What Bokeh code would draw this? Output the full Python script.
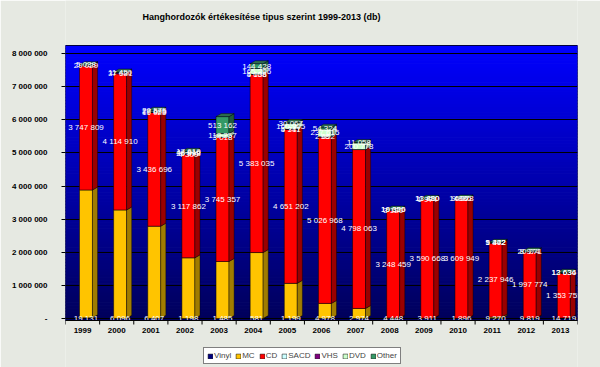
import numpy as np
from bokeh.plotting import figure
from bokeh.models import (ColumnDataSource, FixedTicker, Legend, LegendItem,
                          Label, Range1d)
from bokeh.core.properties import value
from bokeh.embed import file_html
from bokeh.resources import INLINE

# ---------------- data ----------------
years = ["1999", "2000", "2001", "2002", "2003", "2004", "2005", "2006",
         "2007", "2008", "2009", "2010", "2011", "2012", "2013"]
vinyl = [19131, 6096, 6407, 1198, 1485, 581, 1199, 4978, 2974, 4448, 3911,
         1896, 9270, 9819, 14719]
mc = [3860000, 3270000, 2780000, 1830000, 1720000, 1990000, 1060000, 450000,
      300000, 12000, 6000, 4000, 35000, 5000, 3000]
cd = [3747809, 4114910, 3436696, 3117862, 3745357, 5383035, 4651202, 5026968,
      4798063, 3248459, 3590668, 3609949, 2237946, 1997774, 1353755]
sacd = [0, 0, 0, 4309, 0, 4138, 4317, 2652, 0, 3120, 1974, 606, 1372, 0, 0]
vhs = [29029, 37681, 16025, 26993, 3018, 5006, 5741, 98, 0, 0, 0, 0, 0, 0, 0]
dvd = [0, 0, 27685, 48816, 112257, 165206, 160905, 237615, 200778, 16655,
       13880, 9836, 9442, 20271, 12636]
other = [5038, 11450, 20575, 17610, 513162, 144428, 30067, 54324, 11058,
         19320, 11420, 14978, 5402, 8974, 13634]

series_names = ["Vinyl", "MC", "CD", "SACD", "VHS", "DVD", "Other"]
series_vals = [vinyl, mc, cd, sacd, vhs, dvd, other]
labelled = [True, False, True, True, True, True, True]

y_ticks = [0, 1000000, 2000000, 3000000, 4000000, 5000000, 6000000, 7000000, 8000000]
y_tick_labels = ["-", "1 000 000", "2 000 000", "3 000 000", "4 000 000",
                 "5 000 000", "6 000 000", "7 000 000", "8 000 000"]
title_text = "Hanghordozók értékesítése tipus szerint 1999-2013 (db)"

# ---------------- styles ----------------
front_colors = ["#000080", "#FFC400", "#FF0000", "#CCFFFF", "#800080", "#CCFFCC", "#339966"]
side_colors = ["#000050", "#A07C00", "#9A0000", "#88AAAA", "#500050", "#88AA88", "#1F5E3E"]
cap_color = "#2D6E4C"
BG = "#E6E9E2"
FONT = "Liberation Sans"

W, H = 600, 367
PX_PER_M = 33.125                 # vertical pixels per million
ZERO_PX = 318                      # canvas y of value 0
TOP8_PX = 53                       # canvas y of 8 000 000
X0, X1 = -0.5, len(years) - 0.5
M = 1e6 / PX_PER_M                 # data units per pixel
Y_TOP = 8e6 + TOP8_PX * M
Y_BOT = -(H - ZERO_PX) * M
WALL_TOP = 8e6 + 8 * M
FLOOR = -2 * M

p = figure(width=W, height=H, output_backend="svg", toolbar_location=None,
           title=None, x_range=Range1d(X0, X1), y_range=Range1d(Y_BOT, Y_TOP),
           x_axis_location=None, min_border_left=65, min_border_right=23,
           min_border_top=0, min_border_bottom=0)
p.border_fill_color = BG
p.background_fill_color = BG
p.outline_line_color = None

# blue wall gradient (decoration)
nb = 90
edges = np.linspace(FLOOR, WALL_TOP, nb + 1)
gcols = []
for k in range(nb):
    t = (k + 0.5) / nb
    b = int(90 + (255 - 90) * t)
    gcols.append("#%02x%02x%02x" % (0, 0, b))
gr = p.quad(left=X0, right=X1, bottom=edges[:-1], top=edges[1:],
            fill_color=gcols, line_color=gcols, line_width=1)
gr.level = "image"
p.quad(left=X0, right=X1, bottom=FLOOR, top=WALL_TOP,
       fill_color=None, line_color="#000040", line_width=1)

# ---------------- bars ----------------
n = len(years)
xc = np.arange(n) + 0.1
half = 0.19
dx = 0.15
dy = 3 * M

cum = np.zeros(n)
legend_items = []
lab_x, lab_y, lab_t = [], [], []
for si, (name, vals) in enumerate(zip(series_names, series_vals)):
    v = np.array(vals, dtype=float)
    bot = cum.copy()
    top = cum + v
    src = ColumnDataSource(dict(left=xc - half, right=xc + half, bottom=bot, top=top))
    r = p.quad(left="left", right="right", bottom="bottom", top="top", source=src,
               fill_color=front_colors[si], line_color="black", line_width=0.5)
    legend_items.append(LegendItem(label=name, renderers=[r]))
    xs, ys = [], []
    for i in range(n):
        if v[i] <= 0:
            continue
        xr = xc[i] + half
        xs.append([xr, xr + dx, xr + dx, xr])
        ys.append([bot[i], bot[i] + dy, top[i] + dy, top[i]])
    p.patches(xs, ys, fill_color=side_colors[si], line_color="black", line_width=0.4)
    if labelled[si]:
        for i in range(n):
            if v[i] > 0:
                lab_x.append(xc[i])
                lab_y.append((bot[i] + top[i]) / 2)
                lab_t.append(f"{int(v[i]):,}".replace(",", " "))
    cum = top

# top caps
txs, tys = [], []
for i in range(n):
    xl, xr = xc[i] - half, xc[i] + half
    txs.append([xl, xl + dx, xr + dx, xr])
    tys.append([cum[i], cum[i] + dy, cum[i] + dy, cum[i]])
p.patches(txs, tys, fill_color=cap_color, line_color="black", line_width=0.4)

# data labels
lsrc = ColumnDataSource(dict(x=lab_x, y=lab_y, t=lab_t))
p.text(x="x", y="y", text="t", source=lsrc, text_color="white",
       text_font=value(FONT), text_font_size="8px", text_align="center",
       text_baseline="middle")

# ---------------- y axis ----------------
p.xgrid.visible = False
p.ygrid.grid_line_color = "black"
p.ygrid.grid_line_width = 1
p.ygrid.ticker = FixedTicker(ticks=y_ticks)

p.yaxis.ticker = FixedTicker(ticks=y_ticks)
p.yaxis.major_label_overrides = {t: l for t, l in zip(y_ticks, y_tick_labels)}
p.yaxis.major_label_text_font = FONT
p.yaxis.major_label_text_font_size = "8px"
p.yaxis.major_label_text_font_style = "bold"
p.yaxis.major_label_text_color = "black"
p.yaxis.major_tick_out = 4
p.yaxis.major_tick_in = 0
p.yaxis.minor_tick_line_color = None
p.yaxis.major_label_standoff = 14
p.yaxis.axis_line_color = None

# ---------------- category axis (drawn in the frame) ----------------
p.segment(x0=[X0], y0=[FLOOR], x1=[X1], y1=[FLOOR], line_color="black", line_width=1)
tick_x = [i - 0.5 for i in range(n + 1)]
p.segment(x0=tick_x, y0=[FLOOR] * len(tick_x), x1=tick_x,
          y1=[FLOOR - 4 * M] * len(tick_x), line_color="black", line_width=1)
ysrc = ColumnDataSource(dict(x=list(range(n)), y=[FLOOR - 10 * M] * n, t=years))
p.text(x="x", y="y", text="t", source=ysrc, text_color="black",
       text_font=value(FONT), text_font_size="8px", text_font_style="bold",
       text_align="center", text_baseline="middle")

# title
p.add_layout(Label(x=5.24, y=8e6 + (TOP8_PX - 16) * M, text=title_text,
                   text_font=FONT, text_font_size="9px", text_font_style="bold",
                   text_align="center", text_baseline="middle", text_color="black"))

# legend
legend = Legend(items=legend_items, orientation="horizontal",
                location=(138, 3), glyph_width=6, glyph_height=6,
                label_text_font=FONT, label_text_font_size="8px",
                label_height=8, label_width=4, label_standoff=1, spacing=4,
                padding=3, margin=0, border_line_color="black",
                border_line_width=1, background_fill_color="white",
                background_fill_alpha=1)
p.add_layout(legend, "center")

open("out.html", "w").write(file_html(p, INLINE))
